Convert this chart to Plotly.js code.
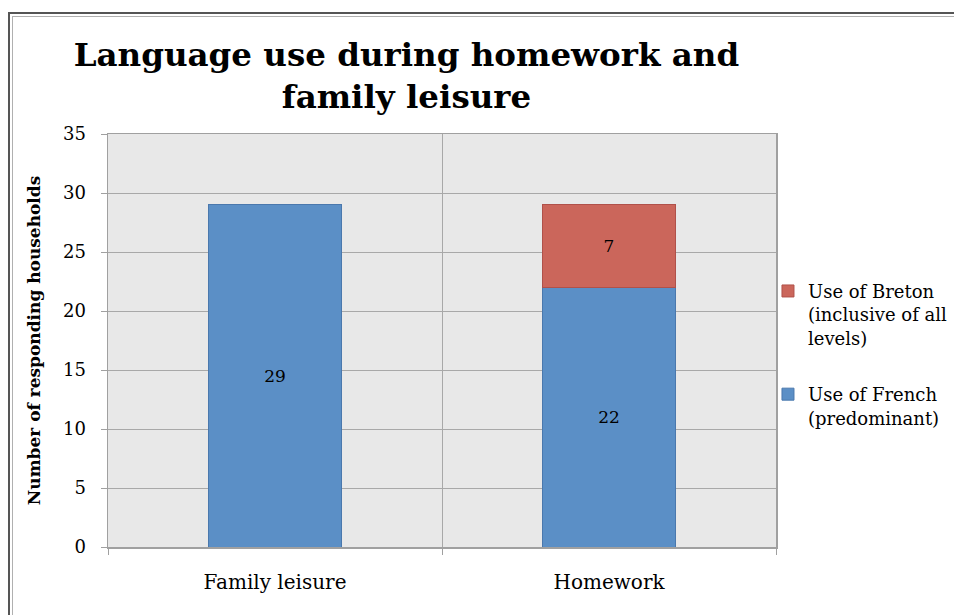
<!DOCTYPE html>
<html><head><meta charset="utf-8">
<script src="https://cdn.plot.ly/plotly-3.0.1.min.js"></script>
<style>
html,body{margin:0;padding:0;background:#fff;overflow:hidden}
#chart{position:absolute;left:0;top:0;width:954px;height:615px}
#frame1{position:absolute;left:8px;top:12px;width:1000px;height:700px;border:2px solid #555;pointer-events:none;z-index:5}
#frame2{position:absolute;left:12px;top:16px;width:1000px;height:700px;border-left:1px solid #b0b0b0;border-top:1px solid #b0b0b0;pointer-events:none;z-index:5}
</style></head>
<body>
<div id="chart"></div>
<div id="frame1"></div>
<div id="frame2"></div>
<script>
const categories = ["Family leisure", "Homework"];
const frenchValues = [29, 22];
const bretonValues = [null, 7];
const seriesNames = ["Use of French<br>(predominant)", "Use of Breton<br>(inclusive of all<br>levels)"];
const yTicks = [0, 5, 10, 15, 20, 25, 30, 35];

const serif = "DejaVu Serif, Liberation Serif, serif";

const traces = [
  {type:"bar", x:categories, y:frenchValues, name:seriesNames[0], legendgroup:"fr", legendrank:2,
   text:frenchValues.map(v=>v==null?"":String(v)), textposition:"inside", insidetextanchor:"middle",
   constraintext:"none", textfont:{family:serif,size:17,color:"#000"},
   marker:{color:"#5b8fc6", line:{color:"#4a78ad", width:1}}, width:0.4, hoverinfo:"none"},
  {type:"bar", x:categories, y:bretonValues, name:seriesNames[1], legendgroup:"br", legendrank:1,
   text:bretonValues.map(v=>v==null?"":String(v)), textposition:"inside", insidetextanchor:"middle",
   constraintext:"none", textfont:{family:serif,size:17,color:"#000"},
   marker:{color:"#cb665b", line:{color:"#b0514a", width:1}}, width:0.4, hoverinfo:"none"}
];

const layout = {
  width:954, height:615,
  margin:{l:108, r:178, t:134, b:68, autoexpand:false},
  paper_bgcolor:"#ffffff", plot_bgcolor:"#e8e8e8",
  barmode:"stack",
  showlegend:true,
  title:{text:"Language use during homework and<br>family leisure",
    font:{family:serif, size:32.5, color:"#000", weight:"bold"},
    x:0.426, xanchor:"center", xref:"container", y:0.893, yanchor:"top", yref:"container"},
  xaxis:{type:"category", range:[-0.5,1.5], tickson:"boundaries", ticks:"outside", ticklen:6,
    tickcolor:"#a0a0a0", showgrid:true, gridcolor:"#a8a8a8", gridwidth:1,
    showline:true, linecolor:"#a0a0a0", linewidth:1.5, mirror:true,
    tickfont:{family:serif, size:20, color:"#000"}, ticklabelstandoff:16, fixedrange:true},
  yaxis:{range:[0,35], tickvals:yTicks, ticks:"outside", ticklen:6, tickcolor:"#a0a0a0",
    showgrid:true, gridcolor:"#a8a8a8", gridwidth:1, zeroline:false,
    showline:true, linecolor:"#a0a0a0", linewidth:1.5, mirror:true,
    tickfont:{family:serif, size:18, color:"#000"}, ticklabelstandoff:11,
    title:{text:"Number of responding households", font:{family:serif, size:17, color:"#000", weight:"bold"}, standoff:18},
    automargin:false, fixedrange:true},
  legend:{x:0.988, xref:"paper", xanchor:"left", y:0.664, yanchor:"top", traceorder:"grouped",
    valign:"top",
    font:{family:serif, size:18, color:"#000"}, tracegroupgap:30, itemwidth:30, bgcolor:"rgba(0,0,0,0)"},
  font:{family:serif}
};

Plotly.newPlot("chart", traces, layout, {displayModeBar:false, staticPlot:true});
</script>
</body></html>
